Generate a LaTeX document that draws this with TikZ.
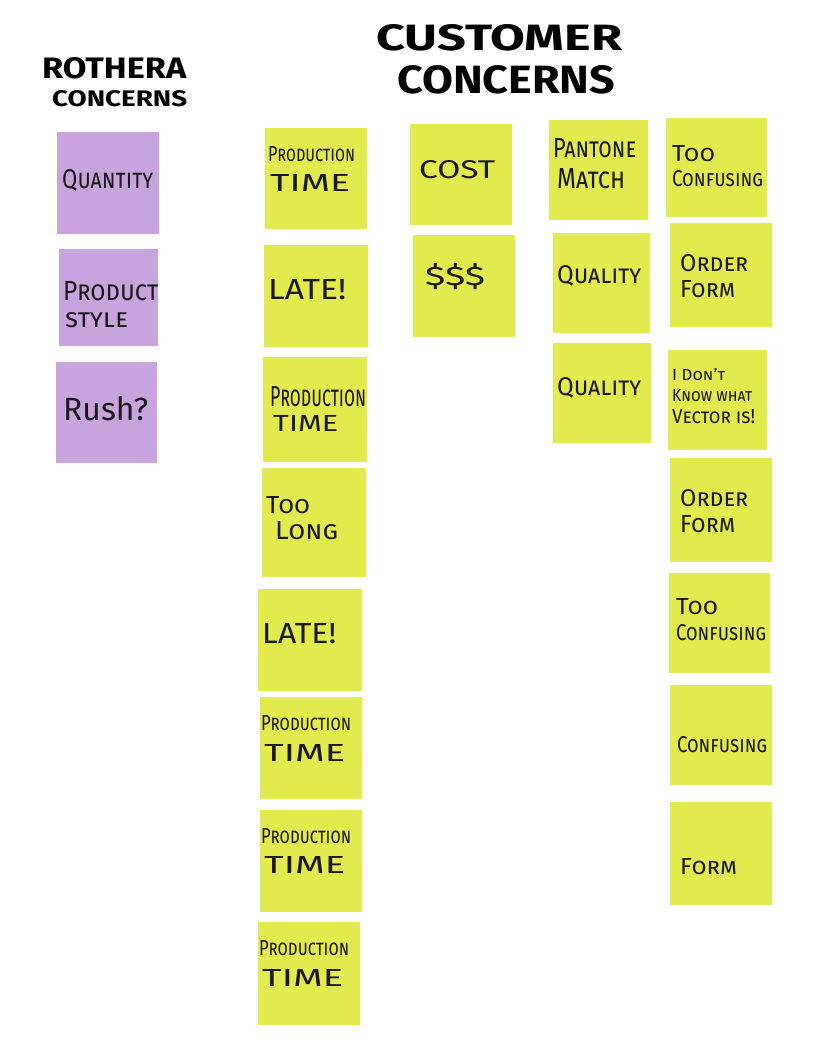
\documentclass[tikz,border=0pt]{standalone}
\usepackage{fontspec}
\usepackage{graphicx}
\setmainfont{Fira Sans}
\definecolor{stickyY}{RGB}{226,234,78}
\definecolor{stickyP}{RGB}{201,163,221}
\definecolor{ink}{RGB}{25,25,25}
\tikzset{
  ynote/.style={fill=stickyY, draw=none, inner sep=0pt, rectangle},
  pnote/.style={fill=stickyP, draw=none, inner sep=0pt, rectangle},
  hand/.style={anchor=base west, inner sep=0pt, text=ink, font=\scshape},
  title/.style={anchor=base west, inner sep=0pt, text=black, font=\bfseries}
}
\newcommand\stickynote[6]{\node[#1, minimum width=#5pt, minimum height=#6pt] (#2) at (#3,#4) {};}
% name, x, baseline y, width, height, text
\newcommand\handtext[6]{\node[hand] (#1) at (#2,#3) {\resizebox{#4pt}{#5pt}{#6}};}
\newcommand\titletext[6]{\node[title] (#1) at (#2,#3) {\resizebox{#4pt}{#5pt}{#6}};}
\begin{document}
\begin{tikzpicture}[x=1pt,y=-1pt]
\fill[white] (0,0) rectangle (826,1056);
\useasboundingbox (0,0) rectangle (826,1056);
% titles
\titletext{t1}{42}{79}{144}{21}{ROTHERA}
\titletext{t2}{52}{107}{135}{16}{CONCERNS}
\titletext{t3}{376}{51}{246}{26}{CUSTOMER}
\titletext{t4}{397}{94}{218}{28}{CONCERNS}
% purple notes
\stickynote{pnote}{q1}{108}{183}{102}{102}
\stickynote{pnote}{q2}{108.5}{297.5}{99}{97}
\stickynote{pnote}{q3}{106.5}{412.5}{101}{101}
% column 1
\stickynote{ynote}{a1}{316}{178.5}{102}{101}
\stickynote{ynote}{a2}{316}{296}{104}{102}
\stickynote{ynote}{a3}{315}{409.5}{104}{105}
\stickynote{ynote}{a4}{314}{522.5}{104}{109}
\stickynote{ynote}{a5}{310}{640}{104}{102}
\stickynote{ynote}{a6}{311}{748}{102}{102}
\stickynote{ynote}{a7}{311}{861}{102}{102}
\stickynote{ynote}{a8}{309}{973.5}{102}{103}
% column 2
\stickynote{ynote}{b1}{461}{174.5}{102}{101}
\stickynote{ynote}{b2}{464}{286}{102}{102}
% column 3
\stickynote{ynote}{c1}{598.5}{170}{99}{100}
\stickynote{ynote}{c2}{601.5}{283}{97}{100}
\stickynote{ynote}{c3}{602}{393}{98}{100}
% column 4
\stickynote{ynote}{d1}{716.5}{167.5}{101}{99}
\stickynote{ynote}{d2}{721}{275}{102}{104}
\stickynote{ynote}{d3}{717.5}{400}{99}{100}
\stickynote{ynote}{d4}{721}{510}{102}{104}
\stickynote{ynote}{d5}{719.5}{623}{101}{100}
\stickynote{ynote}{d6}{721}{735}{102}{100}
\stickynote{ynote}{d7}{721}{853.5}{102}{103}
% purple texts
\handtext{q1t}{62}{189}{91}{19}{Quantity}
\handtext{q2ta}{63}{300}{95}{19}{Product}
\handtext{q2tb}{65}{327}{63}{15}{style}
\handtext{q3t}{63}{420}{85}{24}{\upshape Rush?}
% column 1 texts
\handtext{a1ta}{268}{162}{87}{15}{Production}
\handtext{a1tb}{270}{192}{80}{17}{\upshape TIME}
\handtext{a2t}{268}{299}{78}{20}{\upshape LATE!}
\handtext{a3ta}{270}{406}{96}{20}{Production}
\handtext{a3tb}{273}{431}{65}{16}{\upshape TIME}
\handtext{a4ta}{266}{513}{44}{17}{Too}
\handtext{a4tb}{275}{539}{63}{18}{Long}
\handtext{a5t}{262}{643}{74}{20}{\upshape LATE!}
\handtext{a6ta}{261}{730}{90}{15}{Production}
\handtext{a6tb}{264}{761}{81}{17}{\upshape TIME}
\handtext{a7ta}{261}{843}{90}{15}{Production}
\handtext{a7tb}{264}{873}{81}{17}{\upshape TIME}
\handtext{a8ta}{259}{955}{90}{15}{Production}
\handtext{a8tb}{262}{986}{81}{17}{\upshape TIME}
% column 2 texts
\handtext{b1t}{419}{179}{76}{18}{\upshape COST}
\handtext{b2t}{425}{286}{60}{22}{\upshape \$\$\$}
% column 3 texts
\handtext{c1ta}{553}{158}{83}{19}{Pantone}
\handtext{c1tb}{557}{189}{68}{20}{Match}
\handtext{c2t}{557}{284}{84}{18}{Quality}
\handtext{c3t}{557}{395}{84}{18}{Quality}
% column 4 texts
\handtext{d1ta}{672}{162}{43}{16}{Too}
\handtext{d1tb}{672}{187}{91}{16}{Confusing}
\handtext{d2ta}{680}{271}{68}{17}{Order}
\handtext{d2tb}{680}{298}{55}{17}{Form}
\handtext{d3ta}{672}{380}{53}{12}{I Don't}
\handtext{d3tb}{672}{401}{80}{12}{Know what}
\handtext{d3tc}{672}{423}{83}{14}{Vector is!}
\handtext{d4ta}{680}{506}{68}{17}{Order}
\handtext{d4tb}{680}{532}{55}{17}{Form}
\handtext{d5ta}{676}{614}{42}{16}{Too}
\handtext{d5tb}{676}{640}{90}{16}{Confusing}
\handtext{d6t}{677}{752}{90}{16}{Confusing}
\handtext{d7t}{680}{874}{57}{16}{Form}
\end{tikzpicture}
\end{document}
